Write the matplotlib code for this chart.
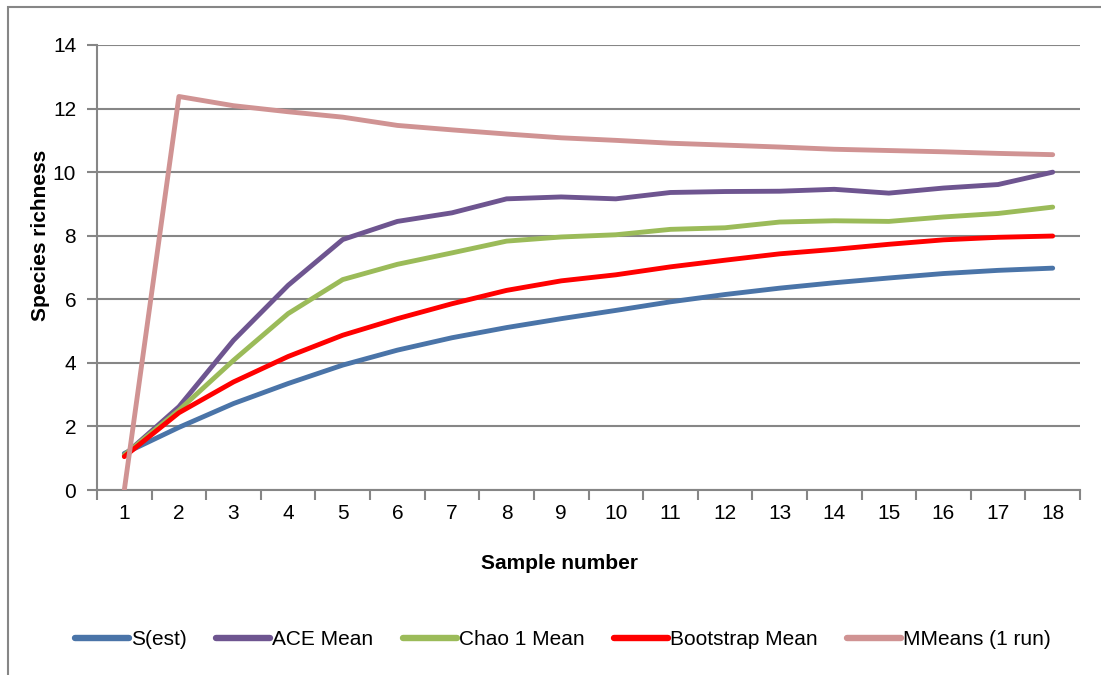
import matplotlib

matplotlib.use("Agg")

import matplotlib.pyplot as plt
from matplotlib.patches import Rectangle

samples = list(range(1, 19))

s_est = [1.15, 1.97, 2.72, 3.35, 3.93, 4.40, 4.79, 5.11, 5.39, 5.65,
         5.92, 6.15, 6.35, 6.52, 6.67, 6.81, 6.91, 6.98]
ace_mean = [1.1, 2.62, 4.71, 6.44, 7.88, 8.45, 8.72, 9.16, 9.22, 9.16,
            9.36, 9.39, 9.40, 9.46, 9.34, 9.50, 9.61, 10.0]
chao1_mean = [1.1, 2.51, 4.08, 5.55, 6.62, 7.10, 7.46, 7.83, 7.96, 8.03,
              8.20, 8.25, 8.43, 8.47, 8.45, 8.59, 8.70, 8.90]
bootstrap_mean = [1.05, 2.43, 3.40, 4.20, 4.87, 5.39, 5.86, 6.28, 6.58, 6.77,
                  7.02, 7.23, 7.43, 7.57, 7.73, 7.87, 7.95, 7.99]
mmmeans = [0.0, 12.38, 12.09, 11.90, 11.73, 11.47, 11.33, 11.20, 11.08, 11.00,
           10.91, 10.85, 10.79, 10.72, 10.68, 10.64, 10.59, 10.55]

series = [
    ("S(est)", s_est, "#4a74a8"),
    ("ACE Mean", ace_mean, "#6e5590"),
    ("Chao 1 Mean", chao1_mean, "#9bbb59"),
    ("Bootstrap Mean", bootstrap_mean, "#ff0000"),
    ("MMeans (1 run)", mmmeans, "#d09393"),
]

plt.rcParams["font.family"] = ["Liberation Sans", "DejaVu Sans"]
grid_color = "#868686"
fs = 15

fig = plt.figure(figsize=(11.01, 6.75), dpi=100)
ax = fig.add_axes([97 / 1101, 185 / 675, 983 / 1101, 445 / 675])

# chart area border (right/bottom edges fall outside the picture)
fig.patches.append(Rectangle((8 / 1101, -0.1), 1.2, 1 - 7 / 675 + 0.1,
                             transform=fig.transFigure, fill=False,
                             edgecolor=grid_color, linewidth=1.5))

for name, values, color in series:
    ax.plot(samples, values, color=color, linewidth=3.5, label=name,
            solid_capstyle="round", solid_joinstyle="round", zorder=3)

ax.set_xlim(0.5, 18.5)
ax.set_ylim(0, 14)
ax.set_yticks(range(0, 15, 2))
ax.set_xticks(samples)
ax.set_xticks([i + 0.5 for i in range(0, 19)], minor=True)
ax.tick_params(axis="x", which="major", length=0, pad=10, labelsize=fs)
ax.tick_params(axis="x", which="minor", length=7, width=1.5, color=grid_color)
ax.tick_params(axis="y", length=7, width=1.5, color=grid_color, pad=8, labelsize=fs)

ax.grid(axis="y", color=grid_color, linewidth=1.5)
ax.set_axisbelow(True)
for side in ["top", "right"]:
    ax.spines[side].set_visible(False)
for side in ["left", "bottom"]:
    ax.spines[side].set_color(grid_color)
    ax.spines[side].set_linewidth(1.5)

ax.set_xlabel("Sample number", fontsize=fs, fontweight="bold")
ax.set_ylabel("Species richness", fontsize=fs, fontweight="bold")
ax.xaxis.set_label_coords(0.471, -0.143)
ax.yaxis.set_label_coords(-0.048, 0.573)

leg = ax.legend(loc="center", bbox_to_anchor=(0.474, -0.337), ncol=5, frameon=False,
                fontsize=fs, handlelength=2.6, handletextpad=0.1, columnspacing=1.4,
                borderaxespad=0)
for line in leg.get_lines():
    line.set_linewidth(4.6)
    line.set_solid_capstyle("round")

fig.savefig("out.png", dpi=100)
